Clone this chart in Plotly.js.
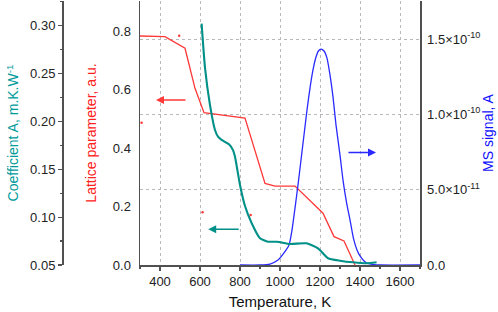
<!DOCTYPE html>
<html>
<head>
<meta charset="utf-8">
<script src="https://cdn.plot.ly/plotly-3.0.1.min.js"></script>
<style>html,body{margin:0;padding:0;background:#fff;}#chart{width:498px;height:312px;}</style>
</head>
<body>
<div id="chart"></div>
<script>
// Lattice parameter (red, left axis)
const latticeT = [300, 425, 525, 575, 620, 825, 925, 975, 1075, 1215, 1270, 1320, 1375];
const latticeV = [0.783, 0.781, 0.741, 0.604, 0.521, 0.502, 0.279, 0.270, 0.270, 0.177, 0.097, 0.082, 0.0];
// stray red dots
const dotsT = [496, 308, 613, 853, 466];
const dotsV = [0.784, 0.486, 0.180, 0.171, -0.089];
// Coefficient A (teal, outer left axis)
const coefT = [608, 625, 650, 675, 690, 708, 745, 765, 775, 800, 825, 858, 900, 940, 985, 1050, 1133, 1190, 1240, 1300, 1365, 1433, 1483];
const coefV = [0.302, 0.256, 0.217, 0.191, 0.184, 0.1806, 0.176, 0.170, 0.163, 0.1336, 0.1116, 0.0939, 0.0779, 0.0743, 0.0743, 0.0719, 0.0727, 0.0674, 0.057, 0.0545, 0.0528, 0.0518, 0.0528];
// MS signal (blue, right axis), in units of 1e-10 A
const msT = [800, 900, 950, 990, 1020, 1045, 1060, 1075, 1090, 1105, 1120, 1135, 1150, 1165, 1180, 1192, 1205, 1220, 1235, 1250, 1265, 1280, 1300, 1315, 1333, 1350, 1367, 1385, 1400, 1420, 1440, 1470, 1500, 1700];
const msV = [0, 0, 0.0066, 0.033, 0.080, 0.133, 0.232, 0.378, 0.531, 0.697, 0.863, 1.029, 1.175, 1.295, 1.381, 1.421, 1.434, 1.421, 1.374, 1.262, 1.116, 0.930, 0.730, 0.564, 0.412, 0.299, 0.179, 0.100, 0.060, 0.027, 0.010, 0.003, 0, 0];
const msTickVals = [0, 0.5e-10, 1.0e-10, 1.5e-10];
const msTickText = ['0.0', '5.0×10<sup>-11</sup>', '1.0×10<sup>-10</sup>', '1.5×10<sup>-10</sup>'];

const RED = '#ff3838', TEAL = '#009088', BLUE = '#2a2aff';
const AX = '#505050';
const FONT = 'Liberation Sans, Arial, sans-serif';

const traces = [
  {x: latticeT, y: latticeV, type: 'scatter', mode: 'lines', line: {color: RED, width: 1.3}, xaxis: 'x', yaxis: 'y', name: 'Lattice parameter'},
  {x: dotsT, y: dotsV, type: 'scatter', mode: 'markers', marker: {color: RED, size: 2.5}, cliponaxis: false, xaxis: 'x', yaxis: 'y', name: 'dots'},
  {x: coefT, y: coefV, type: 'scatter', mode: 'lines', line: {color: TEAL, width: 2.1, shape: 'spline', smoothing: 0.5}, xaxis: 'x', yaxis: 'y3', name: 'Coefficient A'},
  {x: msT, y: msV.map(v => v * 1e-10), type: 'scatter', mode: 'lines', line: {color: BLUE, width: 1.3, shape: 'spline', smoothing: 0.6}, xaxis: 'x', yaxis: 'y2', name: 'MS signal'}
];

const xd = [140/498, 420/498];
const yd = [1 - 265/312, 1 - 1/312];
const tickF = {family: FONT, size: 13, color: '#222'};

const layout = {
  width: 498, height: 312,
  margin: {l: 0, r: 0, t: 0, b: 0},
  paper_bgcolor: '#fff', plot_bgcolor: '#fff',
  showlegend: false,
  font: {family: FONT},
  xaxis: {
    domain: xd, range: [300, 1700], anchor: 'y',
    tickvals: [400, 600, 800, 1000, 1200, 1400, 1600],
    ticks: 'outside', ticklen: 4, tickwidth: 1.2, tickcolor: AX,
    minor: {dtick: 100, ticks: 'outside', ticklen: 2, tickcolor: AX, showgrid: false},
    showline: true, linecolor: AX, linewidth: 1.5,
    showgrid: true, gridcolor: '#b8b8b8', griddash: 'dot', gridwidth: 1,
    zeroline: false, tickfont: tickF,
    title: {text: 'Temperature, K', font: {family: FONT, size: 15, color: '#111'}, standoff: 8}
  },
  xaxis2: {
    domain: xd, range: [300, 1700], overlaying: 'x', anchor: 'y', side: 'top',
    dtick: 100, ticks: 'inside', ticklen: 5, tickcolor: AX, tickwidth: 1.2,
    showticklabels: false, showline: false, showgrid: false, zeroline: false
  },
  yaxis: {
    domain: yd, range: [0, 0.9026], anchor: 'x',
    tickvals: [0, 0.2, 0.4, 0.6, 0.8], ticktext: ['0.0', '0.2', '0.4', '0.6', '0.8'],
    ticks: 'outside', ticklen: 5, tickcolor: 'rgba(0,0,0,0)',
    showline: true, linecolor: AX, linewidth: 1.5,
    showgrid: false, zeroline: false, tickfont: tickF,
    title: {text: 'Lattice parameter, a.u.', font: {family: FONT, size: 14, color: '#ff2020'}, standoff: 13}
  },
  yaxis4: {
    domain: yd, range: [0, 1.753e-10], overlaying: 'y', anchor: 'x', side: 'left',
    dtick: 5e-11, ticks: 'outside', ticklen: 5, tickcolor: AX, tickwidth: 1.2,
    minor: {dtick: 2.5e-11, ticks: 'outside', ticklen: 3, tickcolor: AX},
    showticklabels: false, showline: false, showgrid: false, zeroline: false
  },
  yaxis2: {
    domain: yd, range: [0, 1.753e-10], overlaying: 'y', anchor: 'x', side: 'right',
    tickvals: msTickVals, ticktext: msTickText,
    ticks: 'outside', ticklen: 3, tickcolor: 'rgba(0,0,0,0)',
    showline: true, linecolor: AX, linewidth: 1.5,
    showgrid: true, gridcolor: '#b8b8b8', griddash: 'dot', gridwidth: 1,
    zeroline: false, tickfont: tickF,
    title: {text: 'MS signal, A', font: {family: FONT, size: 14, color: '#1010ff'}, standoff: 3}
  },
  yaxis5: {
    domain: yd, range: [0, 0.9026], overlaying: 'y', anchor: 'x', side: 'right',
    dtick: 0.1, ticks: 'inside', ticklen: 4, tickcolor: AX, tickwidth: 1.2,
    showticklabels: false, showline: false, showgrid: false, zeroline: false
  },
  yaxis3: {
    domain: yd, range: [0.05, 0.3257], overlaying: 'y', anchor: 'free', position: 62/498, side: 'left',
    tickvals: [0.05, 0.10, 0.15, 0.20, 0.25, 0.30], ticktext: ['0.05', '0.10', '0.15', '0.20', '0.25', '0.30'],
    ticks: 'outside', ticklen: 4, tickcolor: AX, tickwidth: 1.2,
    minor: {dtick: 0.025, ticks: 'outside', ticklen: 2.5, tickcolor: AX},
    showline: true, linecolor: AX, linewidth: 1.5,
    showgrid: false, zeroline: false, tickfont: tickF,
    title: {text: 'Coefficient A, m.K.W<sup>-1</sup>', font: {family: FONT, size: 14, color: '#009a9a'}, standoff: 6}
  },
  annotations: [
    {xref: 'x', yref: 'y', x: 380, y: 0.564, ax: 31, ay: 0, text: '', showarrow: true, arrowhead: 2, arrowsize: 1, arrowwidth: 1.6, arrowcolor: RED},
    {xref: 'x', yref: 'y3', x: 641, y: 0.0873, ax: 32, ay: 0, text: '', showarrow: true, arrowhead: 2, arrowsize: 1, arrowwidth: 1.6, arrowcolor: TEAL},
    {xref: 'x', yref: 'y2', x: 1480, y: 7.47e-11, ax: -29, ay: 0, text: '', showarrow: true, arrowhead: 2, arrowsize: 1, arrowwidth: 1.6, arrowcolor: BLUE}
  ]
};

Plotly.newPlot('chart', traces, layout, {staticPlot: true, displayModeBar: false});
</script>
</body>
</html>
